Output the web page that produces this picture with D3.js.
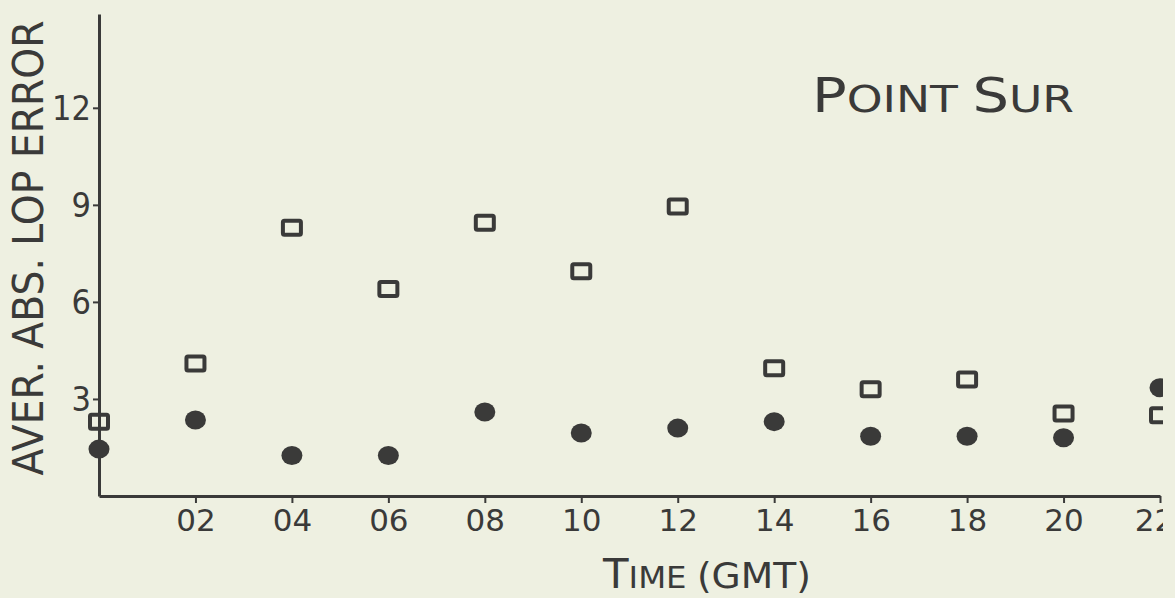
<!DOCTYPE html>
<html>
<head>
<meta charset="utf-8">
<script src="https://cdn.jsdelivr.net/npm/d3@7"></script>
<style>
  html, body { margin: 0; padding: 0; background: #eef0e1; }
  svg { display: block; }
</style>
</head>
<body>
<div id="plot"></div>
<script>
// data: hour (GMT) and average absolute LOP error
var hours = [0, 2, 4, 6, 8, 10, 12, 14, 16, 18, 20, 22];
var squares = [2.3, 4.1, 8.3, 6.4, 8.45, 6.95, 8.95, 3.95, 3.3, 3.6, 2.55, 2.5];
var dots = [1.45, 2.35, 1.25, 1.25, 2.6, 1.95, 2.1, 2.3, 1.85, 1.85, 1.8, 3.35];
var xTicks = [2, 4, 6, 8, 10, 12, 14, 16, 18, 20, 22];
var yTicks = [3, 6, 9, 12];

var width = 1175;
var height = 598;
var ink = '#3a3a39';
var bg = '#eef0e1';

var canvas = d3.select('#plot')
    .append('svg')
    .attr('width', width)
    .attr('height', height);

canvas.append('rect')
    .attr('width', width)
    .attr('height', height)
    .attr('fill', bg);

// the scan is cut off just past the 22 tick
canvas.append('clipPath')
    .attr('id', 'cut')
    .append('rect')
    .attr('x', 0)
    .attr('y', 0)
    .attr('width', 1163)
    .attr('height', height);

var g = canvas.append('g').attr('clip-path', 'url(#cut)');

var x = d3.scaleLinear()
    .domain([0, 22])
    .range([99, 1160]);

var y = d3.scaleLinear()
    .domain([0, 12])
    .range([496, 108]);

// y axis
var yAxis = d3.axisLeft(y.copy().domain([0, 14.9]).range([496, 14]))
    .tickValues(yTicks)
    .tickSize(6)
    .tickSizeOuter(0)
    .tickPadding(2)
    .tickFormat(d3.format('d'));

var ya = g.append('g')
    .attr('transform', 'translate(' + x(0) + ',0)')
    .call(yAxis);
ya.select('.domain').attr('stroke', ink).attr('stroke-width', 3);
ya.selectAll('.tick line').attr('stroke', ink).attr('stroke-width', 2);
ya.selectAll('.tick text')
    .attr('fill', ink)
    .attr('font-family', '"DejaVu Sans Condensed", "DejaVu Sans", sans-serif')
    .attr('font-size', 34)
    .attr('dy', '0.35em');

// x axis
var xAxis = d3.axisBottom(x)
    .tickValues(xTicks)
    .tickSize(7)
    .tickSizeOuter(0)
    .tickPadding(6)
    .tickFormat(function(d) { return d3.format('02d')(d); });

var xa = g.append('g')
    .attr('transform', 'translate(0,' + y(0) + ')')
    .call(xAxis);
xa.select('.domain').attr('stroke', ink).attr('stroke-width', 3);
xa.selectAll('.tick line').attr('stroke', ink).attr('stroke-width', 2);
xa.selectAll('.tick text')
    .attr('fill', ink)
    .attr('font-family', '"DejaVu Sans", sans-serif')
    .attr('font-size', 31)
    .attr('dx', function(d) { return d === 22 ? -6 : 0; });

// open squares
var pts = hours.map(function(h, i) { return {h: h, sq: squares[i], dot: dots[i]}; });

g.selectAll('rect.sq')
    .data(pts)
    .enter()
    .append('rect')
    .attr('class', 'sq')
    .attr('x', function(d) { return x(d.h) - 9; })
    .attr('y', function(d) { return y(d.sq) - 7; })
    .attr('width', 18)
    .attr('height', 14)
    .attr('rx', 1.5)
    .attr('fill', 'none')
    .attr('stroke', ink)
    .attr('stroke-width', 4);

// filled dots
g.selectAll('ellipse.dot')
    .data(pts)
    .enter()
    .append('ellipse')
    .attr('class', 'dot')
    .attr('cx', function(d) { return x(d.h); })
    .attr('cy', function(d) { return y(d.dot); })
    .attr('rx', 10.5)
    .attr('ry', 9.5)
    .attr('fill', ink);

// y label
g.append('text')
    .attr('transform', 'translate(43,248) rotate(-90)')
    .attr('text-anchor', 'middle')
    .attr('fill', ink)
    .attr('font-family', '"DejaVu Sans", sans-serif')
    .attr('font-size', 42)
    .attr('textLength', 455)
    .attr('lengthAdjust', 'spacingAndGlyphs')
    .text('AVER. ABS. LOP ERROR');

// title, small caps
var title = g.append('text')
    .attr('x', 812)
    .attr('y', 112)
    .attr('fill', ink)
    .attr('font-family', '"DejaVu Sans", sans-serif')
    .attr('textLength', 262)
    .attr('lengthAdjust', 'spacingAndGlyphs');
title.append('tspan').attr('font-size', 48).text('P');
title.append('tspan').attr('font-size', 38).text('OINT ');
title.append('tspan').attr('font-size', 48).text('S');
title.append('tspan').attr('font-size', 38).text('UR');

// x label
var xl = g.append('text')
    .attr('x', 603)
    .attr('y', 588)
    .attr('fill', ink)
    .attr('font-family', '"DejaVu Sans", sans-serif')
    .attr('textLength', 208)
    .attr('lengthAdjust', 'spacingAndGlyphs');
xl.append('tspan').attr('font-size', 40).text('T');
xl.append('tspan').attr('font-size', 31).text('IME ');
xl.append('tspan').attr('font-size', 36).text('(GMT)');
</script>
</body>
</html>
